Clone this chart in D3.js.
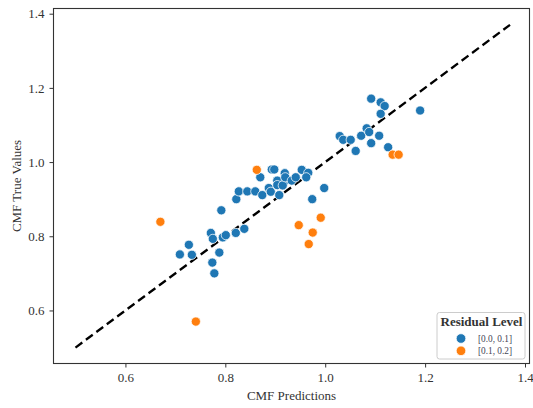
<!DOCTYPE html>
<html><head><meta charset="utf-8">
<script src="https://cdn.jsdelivr.net/npm/d3@7"></script>
<style>body{margin:0;background:#fff}svg{display:block}</style>
</head><body>
<script>
// Data
const bluePred = [0.709,0.727,0.733,0.771,0.775,0.795,0.801,0.792,0.788,0.774,0.778,0.821,0.838,0.822,0.827,0.844,0.860,0.874,0.870,0.887,0.891,0.893,0.898,0.904,0.908,0.904,0.919,0.921,0.915,0.920,0.933,0.941,0.953,0.966,0.962,0.998,0.974,1.029,1.036,1.051,1.061,1.072,1.083,1.088,1.092,1.108,1.126,1.092,1.111,1.119,1.111,1.190];
const blueTrue = [0.751,0.777,0.750,0.809,0.793,0.797,0.803,0.870,0.756,0.729,0.700,0.809,0.820,0.900,0.921,0.921,0.921,0.911,0.959,0.930,0.920,0.980,0.980,0.950,0.911,0.938,0.970,0.950,0.937,0.959,0.950,0.959,0.979,0.971,0.959,0.930,0.900,1.070,1.060,1.060,1.030,1.071,1.091,1.081,1.051,1.071,1.040,1.171,1.161,1.151,1.130,1.139];
const orangePred = [0.670,0.741,0.863,0.991,0.947,0.975,0.967,1.135,1.147];
const orangeTrue = [0.839,0.570,0.979,0.850,0.830,0.810,0.779,1.020,1.020];
const xTicks = [0.6,0.8,1.0,1.2,1.4];
const yTicks = [0.6,0.8,1.0,1.2,1.4];
const legendLabels = ["[0.0, 0.1]","[0.1, 0.2]"];
const lineStart = 0.5, lineEnd = 1.37;

const W=533,H=408;
const L=53.5,R=529.5,T=8.5,B=363.5;
const svg=d3.select("body").append("svg").attr("width",W).attr("height",H);
const x=d3.scaleLinear().domain([0.456,1.409]).range([L,R]);
const y=d3.scaleLinear().domain([0.457,1.414]).range([B,T]);
const font="'Liberation Serif','Times New Roman',serif";
const colors=["#1f77b4","#ff7f0e"];

// dashed line
svg.append("line").attr("x1",x(lineStart)).attr("y1",y(lineStart)).attr("x2",x(lineEnd)).attr("y2",y(lineEnd))
  .attr("stroke","#000").attr("stroke-width",2.3).attr("stroke-dasharray","8.5,4.5");

// points
const pts=[];
bluePred.forEach((v,i)=>pts.push({x:v,y:blueTrue[i],c:0}));
orangePred.forEach((v,i)=>pts.push({x:v,y:orangeTrue[i],c:1}));
svg.append("g").selectAll("circle").data(pts).join("circle")
  .attr("cx",d=>x(d.x)).attr("cy",d=>y(d.y)).attr("r",4.6)
  .attr("fill",d=>colors[d.c]).attr("stroke","#fff").attr("stroke-width",0.75);

// axes
const xa=svg.append("g").attr("transform",`translate(0,${B})`)
  .call(d3.axisBottom(x).tickValues(xTicks).tickFormat(d3.format(".1f")).tickSize(4).tickPadding(5));
const ya=svg.append("g").attr("transform",`translate(${L},0)`)
  .call(d3.axisLeft(y).tickValues(yTicks).tickFormat(d3.format(".1f")).tickSize(4).tickPadding(5));
[xa,ya].forEach(a=>{a.select(".domain").remove();
  a.selectAll("text").attr("font-family",font).attr("font-size",13).attr("fill","#333");
  a.selectAll("line").attr("stroke","#333");});
// spines
svg.append("rect").attr("x",L).attr("y",T).attr("width",R-L).attr("height",B-T)
  .attr("fill","none").attr("stroke","#333").attr("stroke-width",1.1);

// labels
svg.append("text").attr("x",(L+R)/2).attr("y",400).attr("text-anchor","middle")
  .attr("font-family",font).attr("font-size",13).attr("fill","#333").text("CMF Predictions");
svg.append("text").attr("transform",`translate(21,${(T+B)/2}) rotate(-90)`).attr("text-anchor","middle")
  .attr("font-family",font).attr("font-size",13).attr("fill","#333").text("CMF True Values");

// legend
const lg=svg.append("g");
lg.append("rect").attr("x",437).attr("y",312.5).attr("width",88).attr("height",46.5).attr("rx",2.5)
  .attr("fill","#fff").attr("fill-opacity",0.85).attr("stroke","#ccc").attr("stroke-width",1);
lg.append("text").attr("x",481.5).attr("y",326).attr("text-anchor","middle")
  .attr("font-family",font).attr("font-size",13).attr("font-weight","bold").attr("fill","#333").text("Residual Level");
legendLabels.forEach((t,i)=>{
  const cy=338.5+i*12.3;
  lg.append("circle").attr("cx",461).attr("cy",cy).attr("r",4.8).attr("fill",colors[i]).attr("stroke","#fff").attr("stroke-width",0.75);
  lg.append("text").attr("x",478).attr("y",cy+3.2).attr("font-family",font).attr("font-size",9.3).attr("fill","#445").text(t);
});
</script>
</body></html>
